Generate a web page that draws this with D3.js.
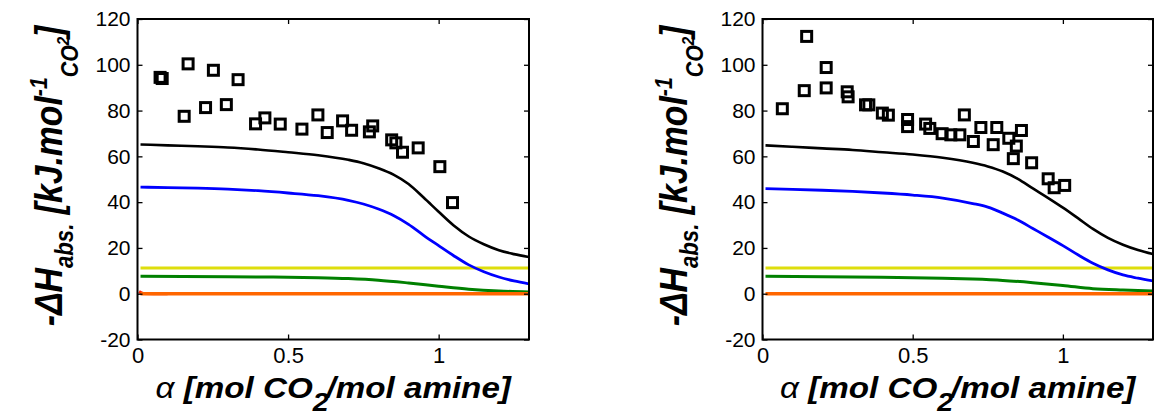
<!DOCTYPE html>
<html>
<head>
<meta charset="utf-8">
<script src="https://cdn.jsdelivr.net/npm/d3@7"></script>
<style>
  body { margin: 0; background: #fff; }
  svg { display: block; font-family: "Liberation Sans", Arial, sans-serif; }
</style>
</head>
<body>
<div id="chart"></div>
<script>
// tick labels
const alphaTicks = [0, 0.5, 1];
const hTicks = [-20, 0, 20, 40, 60, 80, 100, 120];

// experimental points (squares), left panel
const expAlphaA = [0.075, 0.082, 0.155, 0.168, 0.226, 0.252, 0.295, 0.334, 0.392, 0.423, 0.474, 0.546,
  0.599, 0.630, 0.681, 0.711, 0.770, 0.781, 0.844, 0.858, 0.880, 0.932, 1.004, 1.046];
const expHA = [94.5, 94.0, 77.5, 100.4, 81.3, 97.6, 82.6, 93.5, 74.2, 76.8, 74.1, 71.9,
  78.1, 70.4, 75.5, 71.4, 70.7, 73.3, 67.2, 65.9, 61.8, 63.7, 55.5, 39.8];

// experimental points (squares), right panel
const expAlphaB = [0.066, 0.139, 0.147, 0.212, 0.212, 0.282, 0.285, 0.343, 0.354, 0.399, 0.419, 0.483,
  0.483, 0.543, 0.557, 0.598, 0.627, 0.657, 0.672, 0.702, 0.727, 0.768, 0.780, 0.820, 0.835, 0.845,
  0.862, 0.896, 0.951, 0.971, 1.006];
const expHB = [80.8, 88.7, 112.4, 98.8, 89.9, 88.2, 86.0, 82.5, 82.5, 78.9, 78.0, 76.1,
  73.0, 74.1, 72.2, 69.9, 69.4, 69.4, 78.1, 66.5, 72.6, 65.1, 72.6, 67.9, 59.0, 64.5,
  71.3, 57.2, 50.2, 46.3, 47.3];

// model curves
const modelAlpha = [0.01, 0.1, 0.2, 0.3, 0.4, 0.5, 0.6, 0.7, 0.75, 0.8, 0.85, 0.9, 0.95, 1.0,
  1.05, 1.1, 1.15, 1.2, 1.25, 1.3];
const totalA = [65.2, 64.8, 64.4, 63.9, 63.0, 61.8, 60.5, 58.5, 57.0, 54.8, 52.0, 47.9, 42.0, 35.8,
  29.8, 25.0, 21.6, 19.0, 17.3, 16.0];
const blueA = [46.6, 46.3, 46.1, 45.7, 45.0, 44.0, 42.8, 40.8, 39.2, 37.0, 34.2, 30.3, 25.5, 21.0,
  16.6, 12.6, 9.6, 7.3, 5.6, 4.3];
const totalB = [64.8, 64.2, 63.5, 62.8, 61.8, 60.8, 59.4, 57.2, 55.6, 53.4, 50.2, 46.0, 41.9, 37.6,
  33.0, 28.3, 24.4, 21.4, 19.1, 17.3];
const blueB = [45.9, 45.6, 45.2, 44.7, 44.0, 43.1, 41.8, 39.4, 37.8, 35.2, 32.2, 28.5, 24.8, 21.0,
  17.0, 13.3, 10.4, 8.2, 6.8, 5.6];

const greenAlpha = [0.01, 0.3, 0.45, 0.6, 0.7, 0.8, 0.9, 1.0, 1.1, 1.2, 1.3];
const greenA = [7.6, 7.4, 7.3, 7.0, 6.6, 5.9, 4.7, 3.3, 2.0, 1.2, 0.8];
const greenB = [7.6, 7.3, 7.1, 6.8, 6.4, 5.8, 4.8, 3.6, 2.2, 1.6, 1.2];

const flatAlpha = [0.01, 1.3];
const yellowA = [11.2, 11.2];
const yellowB = [11.2, 11.2];
const orangeA = [0, 0];
const orangeB = [0, 0];

const redAlpha = [0.005, 0.02, 0.1];
const redA = [0.9, 0.1, 0];

const W = 1157, H = 416;
const plotTop = 19, plotBottom = 339.5;

const svg = d3.select("#chart").append("svg")
  .attr("width", W)
  .attr("height", H);

function series(alpha, values, color, width) {
  return { points: alpha.map((a, i) => [a, values[i]]), color, width };
}

const panels = [
  {
    id: "a", left: 137.5, right: 529, expAlpha: expAlphaA, expH: expHA,
    lines: [
      series(flatAlpha, yellowA, "#dede0c", 3),
      series(greenAlpha, greenA, "#008000", 3),
      series(redAlpha, redA, "#ff2000", 3),
      series(flatAlpha, orangeA, "#ff6600", 3.4),
      series(modelAlpha, blueA, "#0000ff", 2.8),
      series(modelAlpha, totalA, "#000000", 2.6)
    ]
  },
  {
    id: "b", left: 762.5, right: 1153, expAlpha: expAlphaB, expH: expHB,
    lines: [
      series(flatAlpha, yellowB, "#dede0c", 3),
      series(greenAlpha, greenB, "#008000", 3),
      series(flatAlpha, orangeB, "#ff6600", 3.4),
      series(modelAlpha, blueB, "#0000ff", 2.8),
      series(modelAlpha, totalB, "#000000", 2.6)
    ]
  }
];

panels.forEach(p => {
  const x = d3.scaleLinear().domain([0, 1.3]).range([p.left, p.right]);
  const y = d3.scaleLinear().domain([-20, 120]).range([plotBottom, plotTop]);
  const g = svg.append("g");

  g.append("clipPath").attr("id", "clip-" + p.id)
    .append("rect")
    .attr("x", p.left).attr("y", plotTop)
    .attr("width", p.right - p.left).attr("height", plotBottom - plotTop);

  const line = d3.line().curve(d3.curveMonotoneX).x(d => x(d[0])).y(d => y(d[1]));

  // model curves
  g.append("g").attr("clip-path", `url(#clip-${p.id})`)
    .selectAll("path")
    .data(p.lines)
    .join("path")
    .attr("d", d => line(d.points))
    .attr("fill", "none")
    .attr("stroke", d => d.color)
    .attr("stroke-width", d => d.width)
    .attr("stroke-linejoin", "round");

  // experimental squares
  const s = 10;
  g.append("g")
    .selectAll("rect")
    .data(p.expAlpha.map((a, i) => [a, p.expH[i]]))
    .join("rect")
    .attr("x", d => x(d[0]) - s / 2)
    .attr("y", d => y(d[1]) - s / 2)
    .attr("width", s)
    .attr("height", s)
    .attr("fill", "none")
    .attr("stroke", "#000")
    .attr("stroke-width", 3);

  // axes, ticks pointing inward
  const styleAxis = (sel, fs) => {
    sel.select(".domain").remove();
    sel.attr("font-family", null).attr("font-size", fs);
    sel.selectAll("line").attr("stroke", "#000").attr("stroke-width", 1.3);
    sel.selectAll("text").attr("fill", "#000");
  };

  g.append("g")
    .attr("transform", `translate(0,${plotBottom})`)
    .call(d3.axisBottom(x).tickValues(alphaTicks).tickSize(-5).tickPadding(8).tickFormat(d => String(d)))
    .call(sel => styleAxis(sel, 22));
  g.append("g")
    .attr("transform", `translate(0,${plotTop})`)
    .call(d3.axisTop(x).tickValues(alphaTicks).tickSize(-5).tickFormat(""))
    .call(sel => styleAxis(sel, 22));
  g.append("g")
    .attr("transform", `translate(${p.left},0)`)
    .call(d3.axisLeft(y).tickValues(hTicks).tickSize(-5).tickPadding(7).tickFormat(d => String(d)))
    .call(sel => styleAxis(sel, 21));
  g.append("g")
    .attr("transform", `translate(${p.right},0)`)
    .call(d3.axisRight(y).tickValues(hTicks).tickSize(-5).tickFormat(""))
    .call(sel => styleAxis(sel, 21));

  g.append("rect")
    .attr("x", p.left).attr("y", plotTop)
    .attr("width", p.right - p.left).attr("height", plotBottom - plotTop)
    .attr("fill", "none")
    .attr("stroke", "#000")
    .attr("stroke-width", 2);

  // x title
  const cx = (p.left + p.right) / 2;
  const xt = g.append("text")
    .attr("text-anchor", "middle")
    .attr("font-weight", "bold")
    .attr("font-style", "italic")
    .attr("font-size", 29)
    .attr("fill", "#000");
  xt.append("tspan").attr("font-weight", "normal").text("α");
  xt.append("tspan").text(" [mol CO");
  xt.append("tspan").attr("font-size", 25).attr("dy", 13).text("2");
  xt.append("tspan").attr("dy", -13).attr("dx", -2).text("/mol amine]");
  const xw = xt.node().getBBox().width;
  xt.attr("transform", `translate(${cx},398) scale(${357 / xw},1)`);

  // y title
  const cy = 176;
  const yt = g.append("text")
    .attr("text-anchor", "middle")
    .attr("font-weight", "bold")
    .attr("font-style", "italic")
    .attr("font-size", 38)
    .attr("fill", "#000");
  yt.append("tspan").text("-ΔH");
  yt.append("tspan").attr("font-size", 25).attr("dy", 11).text("abs.");
  yt.append("tspan").attr("dy", -11).text(" [kJ.mol");
  yt.append("tspan").attr("font-size", 24).attr("dy", -15).text("-1");
  yt.append("tspan").attr("font-size", 24).attr("dy", 31).text("CO");
  yt.append("tspan").attr("font-size", 17).attr("dy", -9).text("2");
  yt.append("tspan").attr("dy", -7).text("]");
  const yw = yt.node().getBBox().width;
  yt.attr("transform", `translate(${p.left - 76},${cy}) rotate(-90) scale(${302 / yw},1)`);
});
</script>
</body>
</html>
